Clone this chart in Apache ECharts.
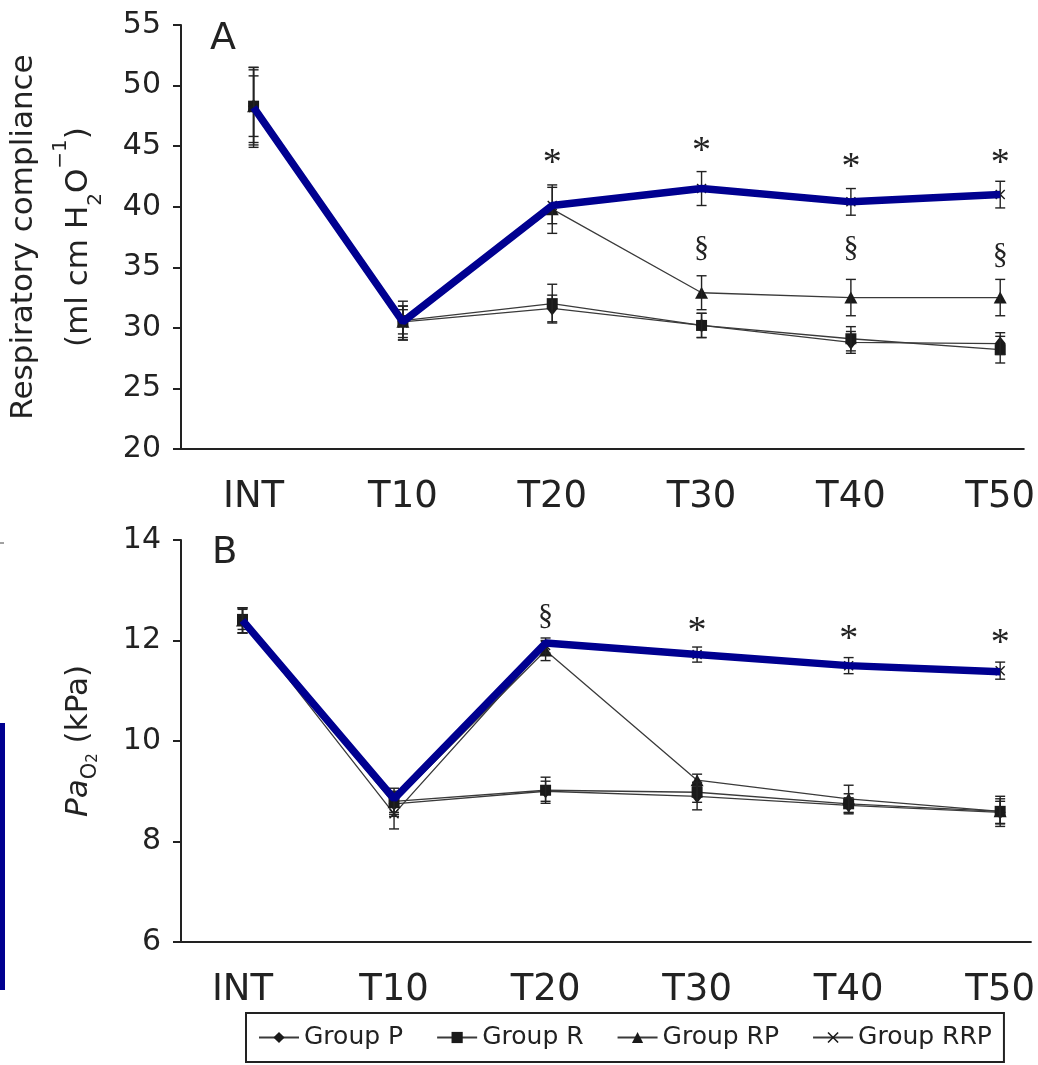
<!DOCTYPE html>
<html>
<head>
<meta charset="utf-8">
<script src="https://cdn.jsdelivr.net/npm/echarts@6/dist/echarts.min.js"></script>
<style>
html,body{margin:0;padding:0;background:#fff;}
#chart{width:1038px;height:1065px;}
</style>
</head>
<body>
<div id="chart"></div>
<script>
// ---------- data ----------
const categories = ['INT', 'T10', 'T20', 'T30', 'T40', 'T50'];
const groupNames = ['Group P', 'Group R', 'Group RP', 'Group RRP'];

// Panel A: respiratory compliance (ml cm H2O^-1)
const complianceP   = [48.3, 30.5, 31.6, 30.2, 28.8, 28.7];
const complianceR   = [48.3, 30.6, 32.0, 30.2, 29.1, 28.2];
const complianceRP  = [48.3, 30.5, 39.8, 32.9, 32.5, 32.5];
const complianceRRP = [48.2, 30.4, 40.1, 41.5, 40.4, 41.0];
const complianceHighlight = [48.2, 30.5, 40.1, 41.5, 40.4, 41.0];
const complianceErrP   = [3.2, 1.3, 1.1, 1.0, 0.9, 0.9];
const complianceErrR   = [3.0, 1.6, 1.6, 1.0, 1.0, 1.1];
const complianceErrRP  = [2.5, 1.0, 2.0, 1.4, 1.5, 1.5];
const complianceErrRRP = [3.3, 1.4, 1.5, 1.4, 1.1, 1.1];
const complianceTicks = [20, 25, 30, 35, 40, 45, 50, 55];
const annotA_x    = [2, 3, 4, 5, 3, 4, 5];
const annotA_y    = [43.5, 44.5, 43.2, 43.5, 36.6, 36.6, 36.0];
const annotA_text = ['*', '*', '*', '*', '§', '§', '§'];

// Panel B: PaO2 (kPa)
const pao2P   = [12.4, 8.75, 9.0, 8.9, 8.72, 8.58];
const pao2R   = [12.42, 8.8, 9.02, 8.98, 8.75, 8.6];
const pao2RP  = [12.4, 8.78, 11.8, 9.22, 8.85, 8.6];
const pao2RRP = [12.4, 8.55, 11.9, 11.72, 11.5, 11.4];
const pao2Highlight = [12.4, 8.85, 11.95, 11.72, 11.5, 11.38];
const pao2ErrP   = [0.25, 0.25, 0.2, 0.27, 0.15, 0.22];
const pao2ErrR   = [0.2, 0.26, 0.26, 0.2, 0.2, 0.3];
const pao2ErrRP  = [0.25, 0.2, 0.2, 0.12, 0.27, 0.25];
const pao2ErrRRP = [0.25, 0.3, 0.15, 0.15, 0.16, 0.17];
const pao2Ticks = [6, 8, 10, 12, 14];
const annotB_x    = [2, 3, 4, 5];
const annotB_y    = [12.49, 12.16, 12.0, 11.93];
const annotB_text = ['§', '*', '*', '*'];

// ---------- styling ----------
const FONT = 'DejaVu Sans';
const INK = '#222';
const BLUE = '#000090';
const symbols = ['diamond', 'rect', 'triangle',
  'path://M0,1L1,0L5,4L9,0L10,1L6,5L10,9L9,10L5,6L1,10L0,9L4,5Z'];
const symbolSizes = [[11, 14], 11, [13, 12], 10];

function pts(vals) { return vals.map((v, i) => [i, v]); }
function errPts(vals, errs) { return vals.map((v, i) => [i, v, errs[i]]); }

function lineSeries(name, vals, gi, k) {
  return {
    type: 'line', name: name, xAxisIndex: gi, yAxisIndex: gi,
    data: pts(vals), symbol: symbols[k], symbolSize: symbolSizes[k],
    showAllSymbol: true,
    itemStyle: { color: '#1a1a1a' },
    lineStyle: { color: '#3a3a3a', width: 1.3 },
    z: 2, animation: false
  };
}
function errSeries(vals, errs, gi) {
  return {
    type: 'custom', xAxisIndex: gi, yAxisIndex: gi,
    data: errPts(vals, errs), encode: { x: 0, y: 1 }, z: 3, animation: false,
    renderItem: function (params, api) {
      const x = api.value(0), v = api.value(1), e = api.value(2);
      const t = api.coord([x, v + e]), b = api.coord([x, v - e]);
      const hw = 5, st = { stroke: INK, lineWidth: 1.4 };
      return { type: 'group', children: [
        { type: 'line', shape: { x1: t[0], y1: t[1], x2: b[0], y2: b[1] }, style: st },
        { type: 'line', shape: { x1: t[0] - hw, y1: t[1], x2: t[0] + hw, y2: t[1] }, style: st },
        { type: 'line', shape: { x1: b[0] - hw, y1: b[1], x2: b[0] + hw, y2: b[1] }, style: st }
      ]};
    }
  };
}
function highlightSeries(vals, gi) {
  return {
    type: 'line', name: 'highlight', xAxisIndex: gi, yAxisIndex: gi,
    data: pts(vals), symbol: 'none', lineStyle: { color: BLUE, width: 7.5 },
    z: 5, animation: false, silent: true
  };
}
function annotSeries(xs, ys, texts, gi) {
  return {
    type: 'custom', xAxisIndex: gi, yAxisIndex: gi,
    data: xs.map((x, i) => [x, ys[i]]), encode: { x: 0, y: 1 }, z: 6, animation: false,
    renderItem: function (params, api) {
      const p = api.coord([api.value(0), api.value(1)]);
      const txt = texts[params.dataIndex];
      return { type: 'text', x: p[0], y: p[1], style: {
        text: txt, fontSize: txt === '*' ? 38 : 30, fontFamily: 'Liberation Serif',
        fill: INK, align: 'center', verticalAlign: 'middle' } };
    }
  };
}
function xAxisCfg(gi, min, max) {
  return {
    type: 'value', gridIndex: gi, min: min, max: max,
    axisLine: { show: true, onZero: false, lineStyle: { color: INK, width: 2 } },
    axisTick: { show: false }, splitLine: { show: false },
    axisLabel: { customValues: categories.map((c, i) => i),
      formatter: v => categories[Math.round(v)] || '',
      fontSize: 37, fontFamily: FONT, color: INK, margin: 30 }
  };
}
function yAxisCfg(gi, ticks, name, gap, rich) {
  return {
    type: 'value', gridIndex: gi, min: ticks[0], max: ticks[ticks.length - 1],
    interval: ticks[1] - ticks[0],
    axisLine: { show: true, onZero: false, lineStyle: { color: INK, width: 2 } },
    axisTick: { show: true, length: 8, lineStyle: { color: INK, width: 2 } },
    splitLine: { show: false },
    axisLabel: { fontSize: 30, fontFamily: FONT, color: INK, margin: 20 },
    name: name, nameLocation: 'middle', nameRotate: 90, nameGap: gap,
    nameTextStyle: { fontFamily: FONT, color: INK, rich: rich }
  };
}

const richA = {
  t:   { fontSize: 31, fontFamily: FONT, color: INK, lineHeight: 55 },
  sub: { fontSize: 20, fontFamily: FONT, color: INK, verticalAlign: 'bottom', lineHeight: 32 },
  sup: { fontSize: 20, fontFamily: FONT, color: INK, verticalAlign: 'top', lineHeight: 30 }
};
const richB = {
  it:   { fontSize: 31, fontFamily: FONT, color: INK, fontStyle: 'italic', lineHeight: 44 },
  t:    { fontSize: 31, fontFamily: FONT, color: INK, lineHeight: 44 },
  sub:  { fontSize: 21, fontFamily: FONT, color: INK, verticalAlign: 'bottom', lineHeight: 30 },
  sub2: { fontSize: 15, fontFamily: FONT, color: INK, verticalAlign: 'bottom', lineHeight: 16 }
};

const seriesA = [complianceP, complianceR, complianceRP, complianceRRP];
const errA = [complianceErrP, complianceErrR, complianceErrRP, complianceErrRRP];
const seriesB = [pao2P, pao2R, pao2RP, pao2RRP];
const errB = [pao2ErrP, pao2ErrR, pao2ErrRP, pao2ErrRRP];

const series = [];
groupNames.forEach((n, k) => series.push(lineSeries(n, seriesA[k], 0, k)));
groupNames.forEach((n, k) => series.push(errSeries(seriesA[k], errA[k], 0)));
series.push(highlightSeries(complianceHighlight, 0));
series.push(annotSeries(annotA_x, annotA_y, annotA_text, 0));
groupNames.forEach((n, k) => series.push(lineSeries(n, seriesB[k], 1, k)));
groupNames.forEach((n, k) => series.push(errSeries(seriesB[k], errB[k], 1)));
series.push(highlightSeries(pao2Highlight, 1));
series.push(annotSeries(annotB_x, annotB_y, annotB_text, 1));

const chart = echarts.init(document.getElementById('chart'), null, { renderer: 'canvas' });
chart.setOption({
  backgroundColor: '#fff',
  animation: false,
  title: [
    { text: 'A', left: 205, top: 15, textStyle: { fontSize: 38, fontWeight: 'normal', fontFamily: FONT, color: INK } },
    { text: 'B', left: 207, top: 530, textStyle: { fontSize: 37, fontWeight: 'normal', fontFamily: FONT, color: INK } }
  ],
  grid: [
    { left: 179, top: 25, width: 859, height: 424 },
    { left: 181, top: 540, width: 857, height: 402 }
  ],
  xAxis: [ xAxisCfg(0, -0.486, 5.158), xAxisCfg(1, -0.406, 5.203) ],
  yAxis: [
    yAxisCfg(0, complianceTicks,
      '{t|Respiratory compliance}\n{t|(ml cm H}{sub|2}{t|O}{sup|−1}{t|)}', 75, richA),
    yAxisCfg(1, pao2Ticks, '{it|Pa}{sub|O}{sub2|2}{t| (kPa)}', 80, richB)
  ],
  legend: {
    data: groupNames, left: 246, top: 1013, orient: 'horizontal',
    itemWidth: 40, itemHeight: 14, itemGap: 33, padding: [12, 12, 12, 12],
    borderColor: INK, borderWidth: 2,
    textStyle: { fontSize: 25, fontFamily: FONT, color: INK }
  },
  graphic: [
    { type: 'rect', left: 0, top: 723, shape: { width: 5, height: 267 }, style: { fill: BLUE } },
    { type: 'line', shape: { x1: 0, y1: 543, x2: 4, y2: 543 }, style: { stroke: '#444', lineWidth: 1 } }
  ],
  series: series
});
</script>
</body>
</html>
